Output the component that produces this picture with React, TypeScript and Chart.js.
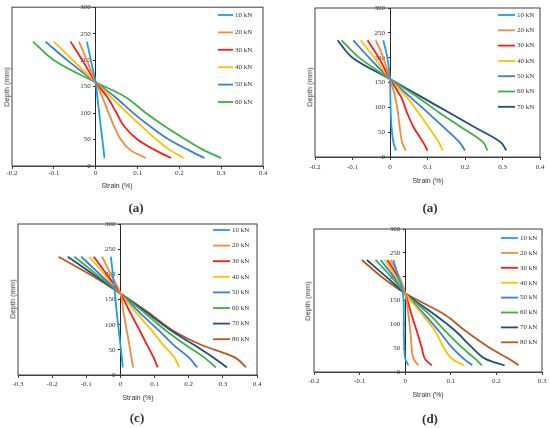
import React, { useEffect, useRef } from 'react'
import { Chart, registerables } from 'chart.js'

Chart.register(...registerables)

const loadLabels = ['10 kN', '20 kN', '30 kN', '40 kN', '50 kN', '60 kN', '70 kN', '80 kN']
const loadColors = ['#1E9FE3', '#F58A3C', '#FF1A1A', '#FFC000', '#3A7DD8', '#3CB043', '#1F4E7A', '#C0561E']

const depthTicks = { min: 0, max: 300, step: 50 }

// (a) top-left
const depthA = [235, 200, 158, 130, 100, 75, 50, 30, 15]
const strainA = [
    [-0.021, -0.0115, 0.0, 0.004, 0.0085, 0.012, 0.016, 0.019, 0.021],
    [-0.04, -0.021, 0.0, 0.016, 0.031, 0.044, 0.06, 0.083, 0.12],
    [-0.06, -0.032, 0.0, 0.028, 0.05, 0.068, 0.1, 0.142, 0.18],
    [-0.1, -0.055, 0.0, 0.037, 0.076, 0.11, 0.145, 0.178, 0.21],
    [-0.12, -0.068, 0.0, 0.047, 0.09, 0.13, 0.175, 0.222, 0.26],
    [-0.15, -0.1, 0.0, 0.072, 0.12, 0.165, 0.215, 0.258, 0.3],
]

// (a) top-right
const depthB = [235, 200, 157, 120, 90, 60, 30, 13]
const strainB = [
    [-0.018, -0.007, 0.0, 0.001, 0.002, 0.004, 0.009, 0.016],
    [-0.038, -0.018, 0.0, 0.014, 0.021, 0.026, 0.032, 0.042],
    [-0.06, -0.03, 0.0, 0.03, 0.045, 0.063, 0.088, 0.1],
    [-0.078, -0.042, 0.0, 0.045, 0.075, 0.103, 0.13, 0.14],
    [-0.098, -0.056, 0.0, 0.055, 0.1, 0.143, 0.185, 0.2],
    [-0.129, -0.082, 0.0, 0.075, 0.13, 0.19, 0.248, 0.26],
    [-0.14, -0.1, 0.0, 0.086, 0.156, 0.226, 0.295, 0.31],
]

// (c)
const depthC = [235, 200, 162, 125, 90, 60, 35, 15]
const strainC = [
    [-0.028, -0.022, -0.016, -0.011, -0.005, 0.0, 0.004, 0.007],
    [-0.054, -0.028, 0.0, 0.009, 0.018, 0.026, 0.032, 0.037],
    [-0.078, -0.04, 0.0, 0.028, 0.055, 0.078, 0.097, 0.109],
    [-0.092, -0.047, 0.0, 0.045, 0.09, 0.125, 0.158, 0.172],
    [-0.115, -0.06, 0.0, 0.055, 0.11, 0.155, 0.2, 0.225],
    [-0.135, -0.07, 0.0, 0.068, 0.13, 0.19, 0.245, 0.279],
    [-0.154, -0.08, 0.0, 0.075, 0.145, 0.215, 0.272, 0.312],
    [-0.181, -0.09, 0.0, 0.08, 0.15, 0.236, 0.335, 0.368],
]

// (d)
const depthD = [235, 200, 165, 120, 87, 52, 28, 14]
const strainD = [
    [-0.026, -0.015, -0.005, -0.003, -0.003, -0.002, 0.0, 0.007],
    [-0.032, -0.013, 0.0, 0.007, 0.011, 0.014, 0.018, 0.029],
    [-0.039, -0.016, 0.0, 0.014, 0.025, 0.036, 0.043, 0.058],
    [-0.045, -0.02, 0.0, 0.038, 0.065, 0.084, 0.102, 0.129],
    [-0.054, -0.025, 0.0, 0.043, 0.073, 0.102, 0.128, 0.147],
    [-0.065, -0.031, 0.0, 0.054, 0.087, 0.124, 0.153, 0.168],
    [-0.084, -0.042, 0.0, 0.065, 0.109, 0.146, 0.175, 0.218],
    [-0.095, -0.052, 0.0, 0.087, 0.131, 0.183, 0.227, 0.249],
]

const SERIF = "'Liberation Serif', 'Times New Roman', serif"
const SANS = "'Liberation Sans', Arial, sans-serif"
const TEXT = '#333333'
const AXIS_H = 20

const panels = [
    {
        depth: depthA, strain: strainA, xMin: -0.2, xMax: 0.4, caption: '(a)',
        box: { left: 0, top: 0, w: 275, h: 200 }, plot: { l: 12, t: 6, r: 263, b: 166 }, tickPad: 0,
        legend: { x1: 218, x2: 233, tx: 235, y0: 15, dy: 17.4 },
        yTitle: { x: 7, y: 87 }, xTitle: { x: 117, y: 185 }, cap: { x: 136, y: 207 },
    },
    {
        depth: depthB, strain: strainB, xMin: -0.2, xMax: 0.4, caption: '(a)',
        box: { left: 275, top: 0, w: 275, h: 200 }, plot: { l: 315, t: 8, r: 540, b: 157 }, tickPad: 3,
        legend: { x1: 498, x2: 515, tx: 517, y0: 15, dy: 15.3 },
        yTitle: { x: 310, y: 87 }, xTitle: { x: 428, y: 180 }, cap: { x: 430, y: 207 },
    },
    {
        depth: depthC, strain: strainC, xMin: -0.3, xMax: 0.4, caption: '(c)',
        box: { left: 0, top: 214, w: 275, h: 190 }, plot: { l: 18, t: 224, r: 257, b: 375 }, tickPad: 2,
        legend: { x1: 213, x2: 230, tx: 232, y0: 230, dy: 15.6 },
        yTitle: { x: 13, y: 299 }, xTitle: { x: 138, y: 397 }, cap: { x: 137, y: 417 },
    },
    {
        depth: depthD, strain: strainD, xMin: -0.2, xMax: 0.3, caption: '(d)',
        box: { left: 275, top: 214, w: 275, h: 190 }, plot: { l: 314, t: 229, r: 542, b: 372 }, tickPad: 2,
        legend: { x1: 501, x2: 518, tx: 520, y0: 238, dy: 14.9 },
        yTitle: { x: 308, y: 301 }, xTitle: { x: 428, y: 394 }, cap: { x: 430, y: 418 },
    },
]

const framePlugin = (p: any) => ({
    id: 'frameAndLegend',
    afterDraw(chart: any) {
        const { ctx, chartArea } = chart
        ctx.save()
        ctx.strokeStyle = '#404040'
        ctx.lineWidth = 1
        ctx.strokeRect(chartArea.left, chartArea.top, chartArea.right - chartArea.left, chartArea.bottom - chartArea.top)

        ctx.font = `7px ${SERIF}`
        ctx.textBaseline = 'middle'
        ctx.fillStyle = TEXT
        chart.data.datasets.forEach((ds: any, i: number) => {
            const y = p.legend.y0 + i * p.legend.dy - p.box.top
            ctx.strokeStyle = ds.borderColor
            ctx.lineWidth = 1.8
            ctx.beginPath()
            ctx.moveTo(p.legend.x1 - p.box.left, y)
            ctx.lineTo(p.legend.x2 - p.box.left, y)
            ctx.stroke()
            ctx.fillText(ds.label, p.legend.tx - p.box.left, y)
        })
        ctx.restore()
    },
})

const Panel = ({ p }: { p: any }) => {
    const canvasRef = useRef<HTMLCanvasElement>(null)

    useEffect(() => {
        const ctx = canvasRef.current!.getContext('2d') as CanvasRenderingContext2D
        const tickFont = { family: SERIF, size: 7 }

        const chart = new Chart(ctx, {
            type: 'scatter',
            data: {
                datasets: p.strain.map((row: number[], i: number) => ({
                    label: loadLabels[i],
                    data: row.map((s, j) => ({ x: s, y: p.depth[j] })),
                    showLine: true,
                    borderColor: loadColors[i],
                    backgroundColor: loadColors[i],
                    borderWidth: 1.8,
                    pointRadius: 0,
                    tension: 0.35,
                })),
            },
            options: {
                responsive: false,
                animation: false,
                layout: {
                    padding: {
                        left: p.plot.l - p.box.left,
                        top: p.plot.t - p.box.top,
                        right: p.box.left + p.box.w - p.plot.r,
                        bottom: p.box.top + p.box.h - p.plot.b - AXIS_H,
                    },
                },
                plugins: { legend: { display: false }, tooltip: { enabled: false } },
                scales: {
                    x: {
                        type: 'linear',
                        position: 'bottom',
                        min: p.xMin,
                        max: p.xMax,
                        afterFit: (axis: any) => { axis.height = AXIS_H },
                        ticks: {
                            stepSize: 0.1, font: tickFont, color: TEXT, padding: p.tickPad, maxRotation: 0,
                            callback: (v: any) => `${+Number(v).toFixed(1)}`,
                        },
                        grid: { drawOnChartArea: false, drawTicks: true, tickLength: 3, color: '#404040' },
                        border: { display: true, color: '#404040' },
                    },
                    y: {
                        type: 'linear',
                        position: { x: 0 },
                        min: depthTicks.min,
                        max: depthTicks.max,
                        ticks: {
                            stepSize: depthTicks.step, font: tickFont, color: TEXT,
                            // labels of an axis placed at x = 0 sit flush on the line, push them left
                            callback: (v: any) => `${v}\u2002\u2009`,
                        },
                        grid: { drawOnChartArea: false, drawTicks: true, tickLength: 2, color: '#262626' },
                        border: { display: true, color: '#262626' },
                    },
                },
            } as any,
            plugins: [framePlugin(p)],
        })

        return () => {
            chart.destroy()
        }
    }, [p])

    const label = (text: string, x: number, y: number, font: string, rotate = false) => (
        <div style={{
            position: 'absolute', left: x, top: y, whiteSpace: 'nowrap',
            transform: `translate(-50%, -50%)${rotate ? ' rotate(-90deg)' : ''}`,
            font, color: TEXT, lineHeight: 1,
        }}>{text}</div>
    )

    return (
        <>
            <canvas
                ref={canvasRef}
                width={p.box.w}
                height={p.box.h}
                style={{ position: 'absolute', left: p.box.left, top: p.box.top, width: p.box.w, height: p.box.h }}
            ></canvas>
            {label('Depth (mm)', p.yTitle.x, p.yTitle.y, `7.5px ${SANS}`, true)}
            {label('Strain (%)', p.xTitle.x, p.xTitle.y, `7px ${SANS}`)}
            {label(p.caption, p.cap.x, p.cap.y, `bold 13px ${SERIF}`)}
        </>
    )
}

export default function App() {
    return (
        <div style={{ position: 'absolute', left: 0, top: 0, width: 550, height: 428, background: '#fff', overflow: 'hidden' }}>
            {panels.map((p, i) => <Panel key={i} p={p} />)}
        </div>
    )
}
